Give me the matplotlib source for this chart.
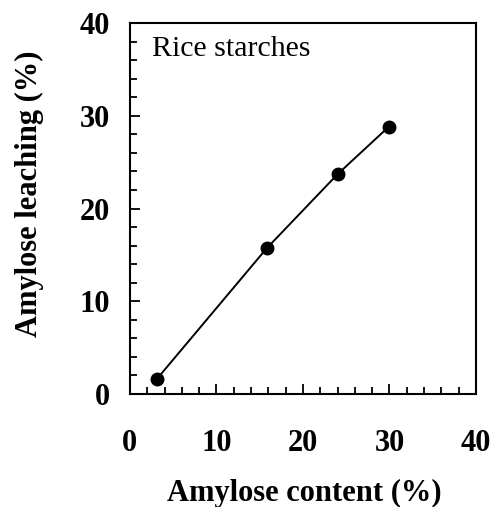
import matplotlib
matplotlib.use("Agg")
import matplotlib.pyplot as plt
from matplotlib.ticker import MultipleLocator

amylose_content = [3.1, 15.8, 24.0, 29.9]
amylose_leaching = [1.6, 15.7, 23.7, 28.8]
ticks = [0, 10, 20, 30, 40]

plt.rcParams['font.family'] = ['Liberation Serif', 'DejaVu Serif']

fig = plt.figure(figsize=(4.94, 5.07), dpi=100)
ax = fig.add_axes([0.263, 0.2229, 0.7006, 0.7317])
ax.plot(amylose_content, amylose_leaching, color='black', lw=1.4,
        marker='o', markersize=9)
ax.set_xlim(0, 40)
ax.set_ylim(0, 40)
ax.set_xticks(ticks)
ax.set_yticks(ticks)
ax.xaxis.set_minor_locator(MultipleLocator(2))
ax.yaxis.set_minor_locator(MultipleLocator(2))
ax.tick_params(which='both', direction='in', top=False, right=False, width=1.3)
ax.tick_params(which='major', length=7)
ax.tick_params(which='minor', length=5)
ax.tick_params(axis='x', which='major', pad=25, labelsize=22)
ax.tick_params(axis='y', which='major', pad=14, labelsize=22)
for lab in ax.get_xticklabels() + ax.get_yticklabels():
    lab.set_fontweight('bold')
for s in ax.spines.values():
    s.set_linewidth(1.5)

ax.set_xlabel('Amylose content (%)', fontsize=22, fontweight='bold')
ax.set_ylabel('Amylose leaching (%)', fontsize=22, fontweight='bold')
ax.xaxis.set_label_coords(0.503, -0.267)
ax.yaxis.set_label_coords(-0.29, 0.539)
ax.xaxis.label.set_va('center')
ax.yaxis.label.set_va('center')
ax.text(0.065, 0.93, 'Rice starches', transform=ax.transAxes, fontsize=21.5,
        ha='left', va='center')

fig.savefig('out.png', dpi=100)
